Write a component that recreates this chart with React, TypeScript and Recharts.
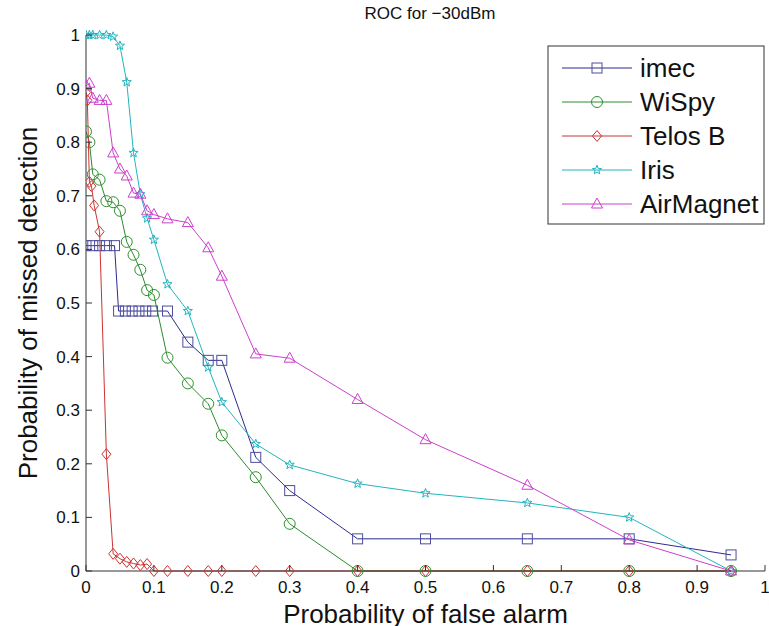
import React from "react";
import { LineChart, Line, XAxis, YAxis } from "recharts";

// ROC for -30dBm
const imec = [
  [0, 0.607], [0.01, 0.607], [0.02, 0.607], [0.03, 0.607], [0.042, 0.607],
  [0.048, 0.485], [0.058, 0.485], [0.068, 0.485], [0.078, 0.485], [0.088, 0.485],
  [0.098, 0.485], [0.12, 0.485], [0.15, 0.427], [0.18, 0.393], [0.2, 0.393],
  [0.25, 0.212], [0.3, 0.15], [0.4, 0.06], [0.5, 0.06], [0.65, 0.06], [0.8, 0.06], [0.95, 0.03],
];
const wispy = [
  [0, 0.82], [0.005, 0.8], [0.01, 0.74], [0.02, 0.73], [0.03, 0.69], [0.04, 0.688],
  [0.05, 0.672], [0.06, 0.614], [0.07, 0.59], [0.08, 0.562], [0.09, 0.524], [0.1, 0.515],
  [0.12, 0.398], [0.15, 0.35], [0.18, 0.312], [0.2, 0.253], [0.25, 0.175], [0.3, 0.088],
  [0.4, 0], [0.5, 0], [0.65, 0], [0.8, 0], [0.95, 0],
];
const telosB = [
  [0, 0.893], [0.002, 0.878], [0.005, 0.726], [0.008, 0.718], [0.012, 0.682], [0.02, 0.633],
  [0.03, 0.218], [0.04, 0.032], [0.05, 0.023], [0.06, 0.017], [0.07, 0.014], [0.08, 0.011],
  [0.09, 0.013], [0.1, 0], [0.12, 0], [0.15, 0], [0.18, 0], [0.2, 0], [0.25, 0], [0.3, 0],
  [0.4, 0], [0.5, 0], [0.65, 0], [0.8, 0], [0.95, 0],
];
const iris = [
  [0, 1], [0.005, 1], [0.01, 1], [0.02, 1], [0.03, 1], [0.04, 0.997], [0.05, 0.98],
  [0.06, 0.912], [0.07, 0.78], [0.08, 0.703], [0.09, 0.658], [0.1, 0.618], [0.12, 0.535],
  [0.15, 0.485], [0.18, 0.38], [0.2, 0.315], [0.25, 0.237], [0.3, 0.198], [0.4, 0.163],
  [0.5, 0.145], [0.65, 0.127], [0.8, 0.1], [0.95, 0],
];
const airMagnet = [
  [0, 0.905], [0.005, 0.91], [0.01, 0.882], [0.02, 0.878], [0.03, 0.878], [0.04, 0.78],
  [0.05, 0.75], [0.06, 0.737], [0.07, 0.705], [0.08, 0.703], [0.09, 0.672], [0.1, 0.665],
  [0.12, 0.657], [0.15, 0.65], [0.18, 0.603], [0.2, 0.55], [0.25, 0.405], [0.3, 0.397],
  [0.4, 0.32], [0.5, 0.245], [0.65, 0.16], [0.8, 0.058], [0.95, 0],
];

const xTicks = [0, 0.1, 0.2, 0.3, 0.4, 0.5, 0.6, 0.7, 0.8, 0.9, 1];
const yTicks = [0, 0.1, 0.2, 0.3, 0.4, 0.5, 0.6, 0.7, 0.8, 0.9, 1];

const series = [
  { name: "imec", points: imec, color: "#2b2b8f", mark: "#4d4d9e", shape: "square" },
  { name: "WiSpy", points: wispy, color: "#2d8a2d", mark: "#2f8f2f", shape: "circle" },
  { name: "Telos B", points: telosB, color: "#cc3333", mark: "#cc3333", shape: "diamond" },
  { name: "Iris", points: iris, color: "#22b5be", mark: "#22b5be", shape: "star" },
  { name: "AirMagnet", points: airMagnet, color: "#cc3fcc", mark: "#cc3fcc", shape: "triangle" },
];

const W = 769;
const H = 626;
const PL = 86;
const PT = 35;
const PR = 765;
const PB = 571;
const FONT = "'Liberation Sans', Arial, Helvetica, sans-serif";

function starPath(cx: number, cy: number, ro: number, ri: number) {
  let d = "";
  for (let i = 0; i < 10; i++) {
    const r = i % 2 === 0 ? ro : ri;
    const a = -Math.PI / 2 + (i * Math.PI) / 5;
    d += (i === 0 ? "M" : "L") + (cx + r * Math.cos(a)).toFixed(2) + "," + (cy + r * Math.sin(a)).toFixed(2);
  }
  return d + "Z";
}

function Marker({ cx, cy, shape, color }: any) {
  const p = { fill: "none", stroke: color, strokeWidth: 1 };
  if (shape === "square") return <rect x={cx - 5} y={cy - 5} width={10} height={10} {...p} />;
  if (shape === "circle") return <circle cx={cx} cy={cy} r={5.5} {...p} />;
  if (shape === "diamond")
    return <path d={`M${cx},${cy - 5.5}L${cx + 4.5},${cy}L${cx},${cy + 5.5}L${cx - 4.5},${cy}Z`} {...p} />;
  if (shape === "star") return <path d={starPath(cx, cy, 4.8, 2)} {...p} />;
  return <path d={`M${cx},${cy - 6}L${cx + 5.5},${cy + 4}L${cx - 5.5},${cy + 4}Z`} {...p} />;
}

const makeDot = (shape: string, color: string) => (props: any) => {
  const { cx, cy, index } = props;
  if (cx == null || cy == null) return <g key={index} />;
  return <Marker key={index} cx={cx} cy={cy} shape={shape} color={color} />;
};

function XTick({ x, payload }: any) {
  return (
    <g>
      <line x1={x} x2={x} y1={PB} y2={PB - 6} stroke="#333" />
      <text x={x} y={PB + 22} textAnchor="middle" fontSize={17} fontFamily={FONT} fill="#111">
        {payload.value}
      </text>
    </g>
  );
}

function YTick({ y, payload }: any) {
  return (
    <g>
      <line x1={PL} x2={PL + 6} y1={y} y2={y} stroke="#333" />
      <text x={PL - 6} y={y + 6} textAnchor="end" fontSize={17} fontFamily={FONT} fill="#111">
        {payload.value}
      </text>
    </g>
  );
}

export default function App() {
  const legendTop = 46;
  return (
    <div style={{ position: "absolute", left: 0, top: 0, width: W, height: H, background: "#fff", overflow: "hidden" }}>
      <LineChart width={W} height={H} margin={{ top: PT, right: W - PR, bottom: 0, left: 0 }}>
        <XAxis
          type="number"
          dataKey="x"
          domain={[0, 1]}
          ticks={xTicks}
          interval={0}
          height={H - PB}
          tick={<XTick />}
          tickLine={false}
          axisLine={{ stroke: "#333" }}
          allowDataOverflow
        />
        <YAxis
          type="number"
          dataKey="y"
          domain={[0, 1]}
          ticks={yTicks}
          interval={0}
          width={PL}
          tick={<YTick />}
          tickLine={false}
          axisLine={{ stroke: "#333" }}
        />
        {series.map((s) => (
          <Line
            key={s.name}
            name={s.name}
            data={s.points.map(([x, y]) => ({ x, y }))}
            dataKey="y"
            type="linear"
            stroke={s.color}
            strokeWidth={1}
            dot={makeDot(s.shape, s.mark)}
            activeDot={false}
            isAnimationActive={false}
          />
        ))}
      </LineChart>
      <svg
        width={W}
        height={H}
        style={{ position: "absolute", left: 0, top: 0, pointerEvents: "none" }}
        fontFamily={FONT}
      >
        <text x={430} y={19} textAnchor="middle" fontSize={17} fill="#111">
          ROC for −30dBm
        </text>
        <text
          x={0}
          y={0}
          transform={`translate(37, ${(PT + PB) / 2}) rotate(-90)`}
          textAnchor="middle"
          fontSize={26}
          fill="#111"
        >
          Probability of missed detection
        </text>
        <text x={(PL + PR) / 2} y={623} textAnchor="middle" fontSize={26} fill="#111">
          Probability of false alarm
        </text>
        <rect x={548} y={legendTop} width={216} height={178} fill="#fff" stroke="#333" />
        {series.map((s, i) => {
          const y = legendTop + 22 + i * 34;
          return (
            <g key={s.name}>
              <line x1={562} x2={632} y1={y} y2={y} stroke={s.color} />
              <Marker cx={597} cy={y} shape={s.shape} color={s.mark} />
              <text x={640} y={y + 9} fontSize={26} fill="#111">
                {s.name}
              </text>
            </g>
          );
        })}
      </svg>
    </div>
  );
}
